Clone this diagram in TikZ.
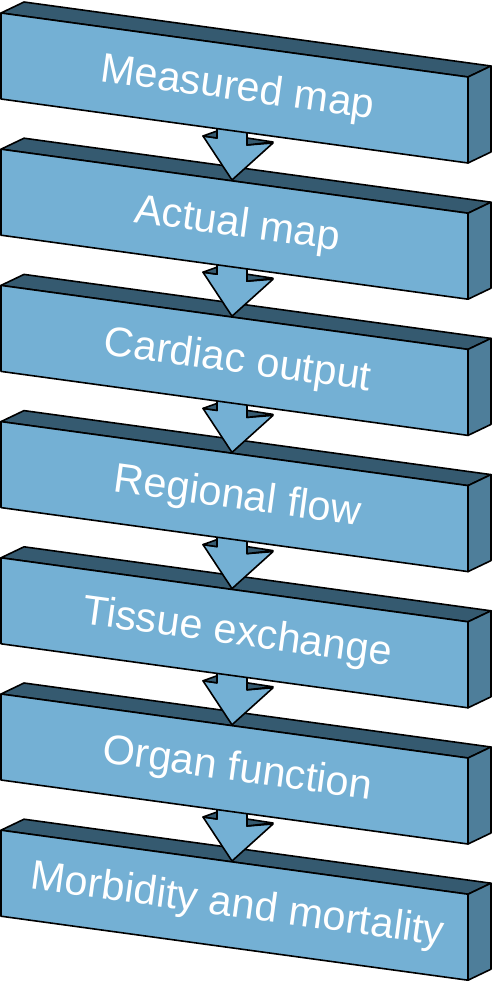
\documentclass[tikz,border=0pt]{standalone}
\usepackage{fontspec}
\setmainfont{Liberation Sans}
\definecolor{frontbg}{RGB}{116,176,212}
\definecolor{topbg}{RGB}{53,90,112}
\definecolor{sidebg}{RGB}{78,126,154}
\tikzset{
  face/.style={draw=black, line width=0.8pt, line join=round},
  frontface/.style={face, fill=frontbg},
  topface/.style={face, fill=topbg},
  sideface/.style={face, fill=sidebg},
  steplabel/.style={text=white, font=\fontsize{20.7}{24}\selectfont, rotate=-7.8, inner sep=0pt, anchor=base},
}

\begin{document}
\begin{tikzpicture}[x=0.5pt, y=-0.5pt]
\useasboundingbox (0,0) rectangle (492,984);
% boxes from the bottom up, so each arrow sits over the box below it
\foreach \i/\txt in {6/Morbidity and mortality, 5/Organ function, 4/Tissue exchange,
                     3/Regional flow, 2/Cardiac output, 1/Actual map, 0/Measured map} {
  \begin{scope}[shift={(0,{136.2*\i})}]
    \ifnum\i<6
      % block arrow down to the next box
      \filldraw[frontface] (217,118) -- (217,138) -- (203,136) -- (232,180)
        -- (273,143) -- (247,145) -- (247,118) -- cycle;
      \filldraw[topface] (203,136) -- (217,131) -- (217,138) -- cycle;
      \filldraw[topface] (247,138) -- (273,142) -- (247,145) -- cycle;
    \fi
    \filldraw[topface] (1,13) -- (24,2) -- (491,66) -- (468,77) -- cycle;
    \filldraw[sideface] (468,77) -- (491,66) -- (491,152) -- (468,163) -- cycle;
    \filldraw[frontface] (1,13) -- (468,77) -- (468,163) -- (1,99) -- cycle;
    \node[steplabel] (lbl\i) at (236,100) {\txt};
  \end{scope}
}
\end{tikzpicture}
\end{document}
